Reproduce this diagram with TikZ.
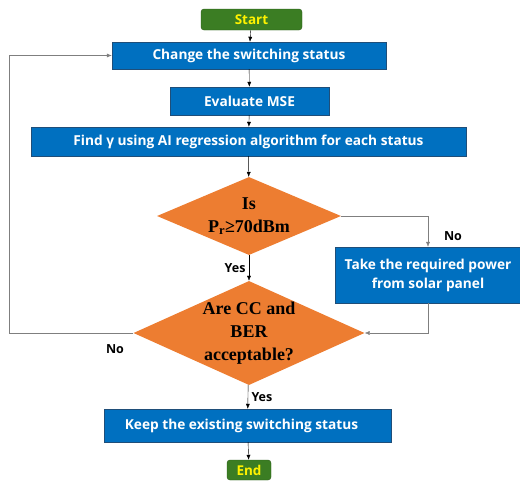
\documentclass[tikz,border=0pt]{standalone}
\usepackage{fontspec}
\setmainfont{Open Sans}
\newfontfamily\serifq{Liberation Serif}
\usetikzlibrary{shapes.geometric,arrows.meta}

\definecolor{boxblue}{HTML}{0070C0}
\definecolor{boxline}{HTML}{1F4E79}
\definecolor{qorange}{HTML}{ED7D31}
\definecolor{termgreen}{HTML}{3B7D23}
\definecolor{termline}{HTML}{2A5A18}
\definecolor{linegray}{HTML}{7F7F7F}

\begin{document}
\begin{tikzpicture}[x=1pt,y=-1pt,
    process/.style={draw=boxline,fill=boxblue,text=white,inner sep=0pt,align=center,
      font=\bfseries\fontsize{13.7}{19}\selectfont},
    term/.style={draw=termline,fill=termgreen,text=yellow,rounded corners=3pt,inner sep=0pt,
      font=\bfseries\fontsize{13.5}{15}\selectfont},
    decision/.style={diamond,fill=qorange,inner sep=0pt,align=center,
      font=\serifq\bfseries\fontsize{18}{23}\selectfont},
    flow/.style={draw=black,-{Latex[length=5pt,width=4pt]}},
    back/.style={draw=linegray,-{Latex[length=5pt,width=4pt]}},
    answer/.style={font=\bfseries\fontsize{12.5}{14}\selectfont}]
\useasboundingbox (0,0) rectangle (520,480);
    % Steps
    \node[term,minimum width=101,minimum height=21] (start) at (251.5,19.5) {Start};
    \node[process,minimum width=274,minimum height=27] (change) at (249,55.5) {Change the switching status};
    \node[process,minimum width=159,minimum height=28] (mse) at (249.5,101) {Evaluate MSE};
    \node[process,minimum width=435,minimum height=29] (findg) at (248.5,141.5) {Find γ using AI regression algorithm for each status};
    \node[decision,minimum width=184,minimum height=78,aspect=2.36] (isp) at (249,216) {Is\\P\textsubscript{r}≥70dBm};
    \node[process,minimum width=186,minimum height=56] (take) at (428,275) {Take the required power\\from solar panel};
    \node[decision,minimum width=224,minimum height=101,aspect=2.22] (accept) at (249,333) {Are CC and\\BER\\acceptable?};
    \node[process,minimum width=287,minimum height=33] (keep) at (247.5,425.5) {Keep the existing switching status\hspace{12pt}};
    \node[term,minimum width=44,minimum height=20] (finish) at (249,470) {End};
    \coordinate (loop) at (9,333);

    % Arrows
    \draw[flow] (start) -- (change);
    \draw[flow] (change) -- (mse);
    \draw[flow] (mse) -- (findg);
    \draw[flow] (findg) -- (isp);
    \draw[flow] (isp) -- node[answer,left] (yes1) {Yes} (accept);
    \draw[back] (isp.east) -| (take.north);
    \node[answer] (no1) at (453,236) {No};
    \draw[back] (take.south) |- (accept.east);
    \draw[back] (accept.west) -- (loop) |- (change.west);
    \node[answer] (no2) at (115,349) {No};
    \draw[flow] (accept) -- node[answer,right] (yes2) {Yes} (keep);
    \draw[flow] (keep) -- (finish);
\end{tikzpicture}
\end{document}
